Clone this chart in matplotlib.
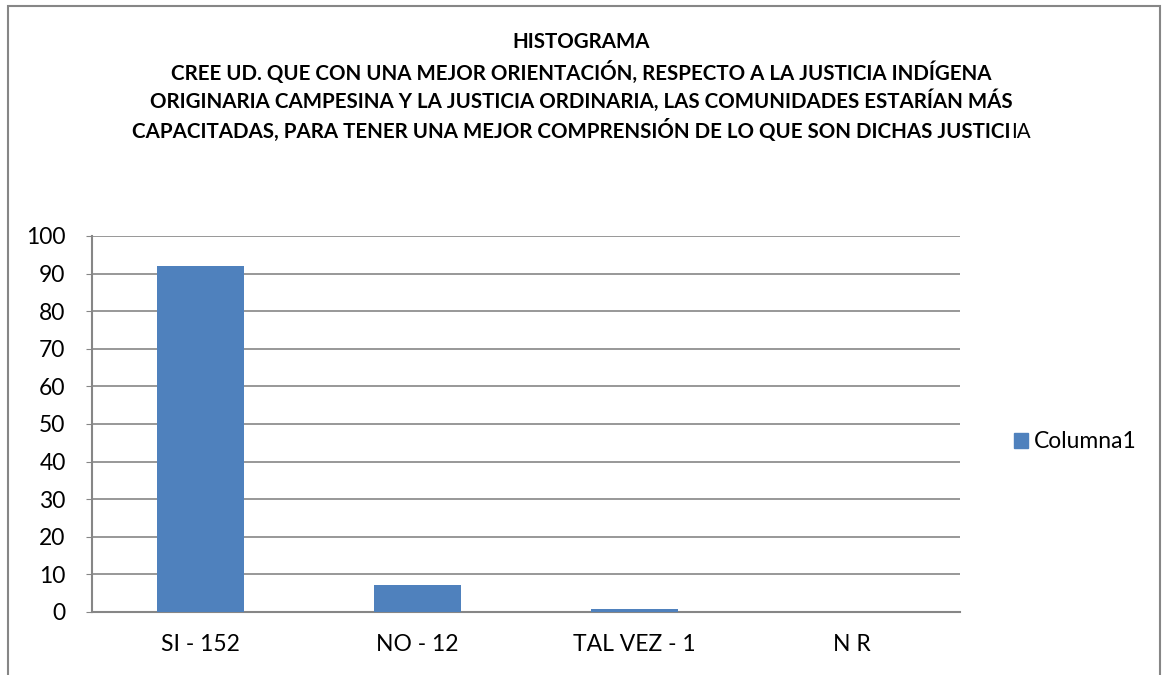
import matplotlib.pyplot as plt
from matplotlib.patches import Rectangle, Patch

# Datos del gráfico
categorias = ["SI - 152", "NO - 12", "TAL VEZ - 1", "N R"]
porcentajes = [92.1, 7.3, 0.7, 0]
serie = "Columna1"

titulo_lineas = [
    "HISTOGRAMA",
    "CREE UD. QUE CON UNA MEJOR ORIENTACIÓN, RESPECTO A LA JUSTICIA INDÍGENA",
    "ORIGINARIA CAMPESINA Y LA JUSTICIA ORDINARIA, LAS COMUNIDADES ESTARÍAN MÁS",
    "CAPACITADAS, PARA TENER UNA MEJOR COMPRENSIÓN DE LO QUE SON DICHAS JUSTICI",
]
titulo_fin = "IA"

plt.rcParams['font.family'] = ['Lato', 'DejaVu Sans']
azul = '#4F81BD'
gris = '#868686'
fs_titulo = 14.8
fs_ejes = 16.5

fig = plt.figure(figsize=(11.63, 6.75), dpi=100)
W, H = 1163, 675

# Marco exterior del gráfico
fig.patches.append(Rectangle((8 / W, -0.05), 1152 / W, 1.05 - 6 / H, transform=fig.transFigure,
                             fill=False, edgecolor=gris, linewidth=1.5))

ax = fig.add_axes([92 / W, (H - 612) / H, (960 - 92) / W, (612 - 236) / H])
x = range(len(categorias))
ax.bar(x, porcentajes, width=0.4, color=azul, zorder=3)
ax.set_xlim(-0.5, len(categorias) - 0.5)
ax.set_ylim(0, 100)
ax.set_yticks(range(0, 101, 10))
ax.set_xticks(list(x))
ax.set_xticklabels(categorias)
ax.yaxis.grid(True, color=gris, linewidth=1.2, zorder=0)
for s in ['top', 'right']:
    ax.spines[s].set_visible(False)
for s in ['left', 'bottom']:
    ax.spines[s].set_color(gris)
    ax.spines[s].set_linewidth(1.5)
ax.tick_params(axis='y', length=4, color=gris, labelsize=fs_ejes, pad=15)
ax.tick_params(axis='x', length=0, labelsize=fs_ejes, pad=16)

# Leyenda
fig.legend(handles=[Patch(color=azul, label=serie)], loc='center left',
           bbox_to_anchor=(993 / W, (H - 442) / H), frameon=False, fontsize=fs_ejes,
           handlelength=0.62, handleheight=0.62, handletextpad=0.25)

# Título en varias líneas
ys = [42, 72, 101, 131]
for linea, y in zip(titulo_lineas[:3], ys[:3]):
    fig.text(0.5, 1 - y / H, linea, ha='center', va='center', fontsize=fs_titulo, fontweight='bold')

fig.canvas.draw()
r = fig.canvas.get_renderer()
t1 = fig.text(0, 1 - ys[3] / H, titulo_lineas[3], ha='left', va='baseline', fontsize=fs_titulo, fontweight='bold')
t2 = fig.text(0, 1 - ys[3] / H, titulo_fin, ha='left', va='baseline', fontsize=fs_titulo)
w1 = t1.get_window_extent(r).width
w2 = t2.get_window_extent(r).width
x0 = (W - w1 - w2) / 2
t1.set_x(x0 / W)
t2.set_x((x0 + w1) / W)
# bajar la línea base para que quede centrada como las demás
t1.set_y(1 - (ys[3] + 7) / H)
t2.set_y(1 - (ys[3] + 7) / H)

fig.savefig('out.png', dpi=100)
